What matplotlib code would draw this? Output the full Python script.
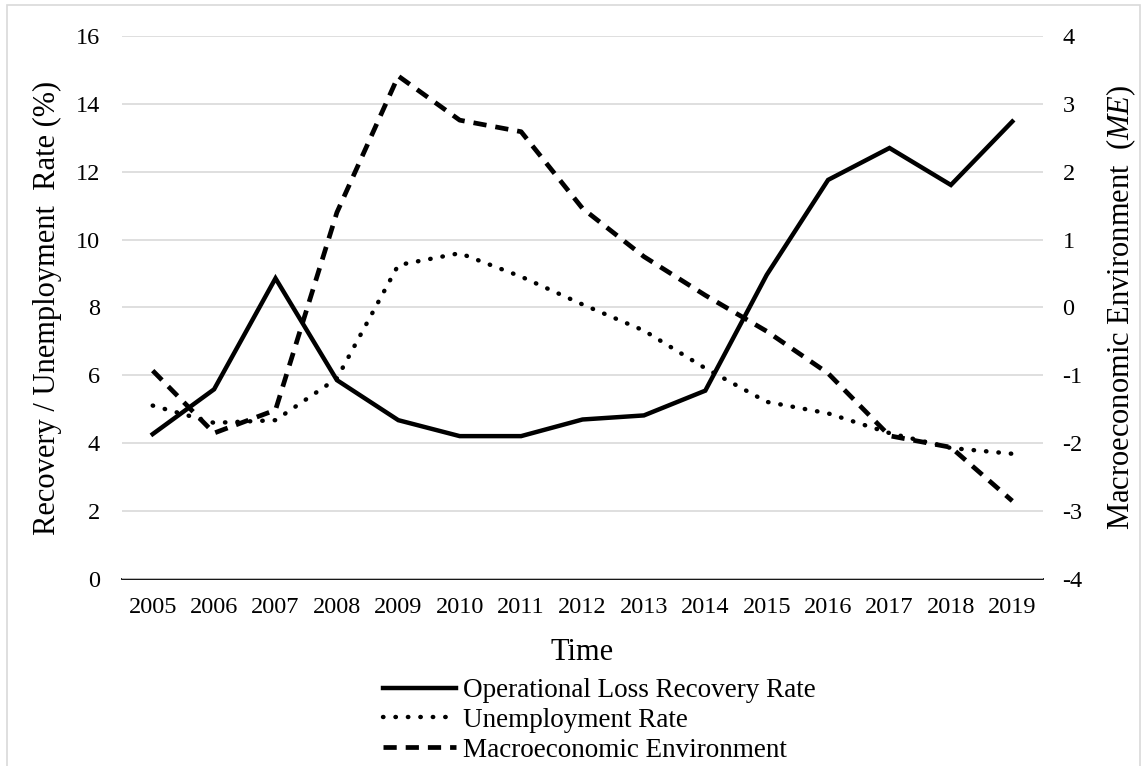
import matplotlib
matplotlib.use("Agg")
import matplotlib.pyplot as plt
from matplotlib.patches import Rectangle

plt.rcParams['font.family'] = ['Liberation Serif', 'DejaVu Serif']
plt.rcParams['mathtext.fontset'] = 'custom'
plt.rcParams['mathtext.it'] = 'Liberation Serif:italic'
plt.rcParams['mathtext.rm'] = 'Liberation Serif'
plt.rcParams['axes.unicode_minus'] = False

years = ['2005', '2006', '2007', '2008', '2009', '2010', '2011', '2012',
         '2013', '2014', '2015', '2016', '2017', '2018', '2019']
recovery = [4.27, 5.59, 8.86, 5.86, 4.68, 4.21, 4.21, 4.70, 4.82, 5.55,
            8.96, 11.76, 12.70, 11.61, 13.48]
unemployment = [5.11, 4.60, 4.68, 5.91, 9.25, 9.60, 8.91, 8.09, 7.32, 6.21,
                5.22, 4.88, 4.30, 3.86, 3.69]
macro_env = [-0.93, -1.85, -1.51, 1.40, 3.41, 2.76, 2.59, 1.46, 0.75, 0.18,
             -0.35, -0.97, -1.89, -2.06, -2.85]

W, H = 1143, 766
fig = plt.figure(figsize=(W / 100, H / 100), dpi=100)
ax = fig.add_axes([122 / W, 1 - 579 / H, (1043 - 122) / W, (579 - 36) / H])
ax2 = ax.twinx()

x = list(range(len(years)))
l1, = ax.plot(x, recovery, color='black', lw=3.2, solid_joinstyle='miter',
              label='Operational Loss Recovery Rate')
l2, = ax.plot(x, unemployment, color='black', lw=3.2, linestyle=(0, (0.1, 2.7)),
              dash_capstyle='round', label='Unemployment Rate')
l3, = ax2.plot(x, macro_env, color='black', lw=3.4, linestyle=(0, (2.8, 1.9)),
               label='Macroeconomic Environment')

ax.set_xlim(-0.5, len(years) - 0.5)
ax.set_ylim(0, 16)
ax.set_yticks(range(0, 17, 2))
ax2.set_ylim(-4, 4)
ax2.set_yticks(range(-4, 5))
ax.set_xticks(x)
ax.set_xticklabels(years)

ax.grid(axis='y', color='#d9d9d9', lw=1.2)
ax.set_axisbelow(True)
for a in (ax, ax2):
    for s in a.spines.values():
        s.set_visible(False)
ax.spines['bottom'].set_visible(True)
ax.spines['bottom'].set_linewidth(1.3)
ax.spines['bottom'].set_zorder(0.5)

ax.tick_params(axis='both', length=0, labelsize=17.5)
ax.tick_params(axis='y', pad=16)
ax.tick_params(axis='x', pad=13)
ax2.tick_params(axis='y', length=0, labelsize=17.5, pad=14)

ax.set_ylabel('Recovery / Unemployment  Rate (%)', fontsize=22, labelpad=10)
ax2.set_ylabel('Macroeconomic Environment  ($\\mathit{ME}$)', fontsize=22, labelpad=16)
ax.set_xlabel('Time', fontsize=22, labelpad=14)

fig.legend(handles=[l1, l2, l3], loc='upper left',
           bbox_to_anchor=(383 / W, 1 - 678 / H), frameon=False, fontsize=19.5,
           handlelength=2.7, handletextpad=0.25, labelspacing=0.18,
           borderpad=0, borderaxespad=0)

fig.patches.append(Rectangle((7 / W, -0.1), (1140 - 7) / W, 1.1 - 5 / H,
                             transform=fig.transFigure, fill=False,
                             edgecolor='#d9d9d9', lw=1.2))

fig.savefig('out.png', dpi=100)
